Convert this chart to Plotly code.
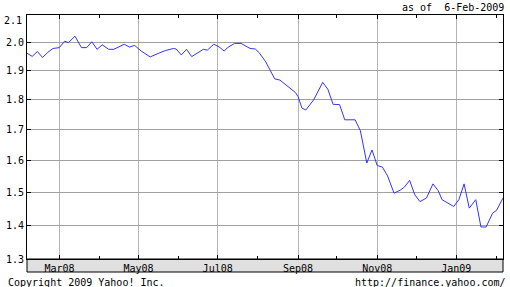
import numpy as np
import plotly.graph_objects as go

# ---- data ----
dates = [
    "2008-02-05", "2008-02-09", "2008-02-13", "2008-02-17", "2008-02-21", "2008-02-25",
    "2008-03-01", "2008-03-05", "2008-03-08", "2008-03-13", "2008-03-18", "2008-03-22",
    "2008-03-26", "2008-03-30", "2008-04-03", "2008-04-08", "2008-04-12", "2008-04-17",
    "2008-04-20", "2008-04-24", "2008-04-28", "2008-05-03", "2008-05-10", "2008-05-17",
    "2008-05-22", "2008-05-28", "2008-05-30", "2008-06-03", "2008-06-07", "2008-06-11",
    "2008-06-16", "2008-06-20", "2008-06-23", "2008-06-28", "2008-07-02", "2008-07-06",
    "2008-07-09", "2008-07-14", "2008-07-19", "2008-07-22", "2008-07-26", "2008-07-30",
    "2008-08-02", "2008-08-07", "2008-08-10", "2008-08-14", "2008-08-18", "2008-08-21",
    "2008-08-27", "2008-08-30", "2008-09-01", "2008-09-04", "2008-09-07", "2008-09-13",
    "2008-09-20", "2008-09-24", "2008-09-28", "2008-10-03", "2008-10-07", "2008-10-15",
    "2008-10-19", "2008-10-21", "2008-10-24", "2008-10-28", "2008-11-01", "2008-11-05",
    "2008-11-09", "2008-11-14", "2008-11-19", "2008-11-22", "2008-11-26", "2008-11-30",
    "2008-12-04", "2008-12-09", "2008-12-14", "2008-12-18", "2008-12-21", "2008-12-30",
    "2009-01-03", "2009-01-07", "2009-01-11", "2009-01-16", "2009-01-20", "2009-01-24",
    "2009-01-29", "2009-02-01", "2009-02-06",
]
values = [
    1.962, 1.951, 1.968, 1.947, 1.965, 1.979,
    1.982, 2.005, 2.000, 2.023, 1.982, 1.982,
    2.003, 1.976, 1.992, 1.976, 1.976, 1.989,
    1.994, 1.984, 1.990, 1.970, 1.949, 1.963,
    1.972, 1.979, 1.977, 1.956, 1.976, 1.950,
    1.964, 1.976, 1.973, 1.994, 1.985, 1.970,
    1.983, 1.997, 1.997, 1.988, 1.979, 1.977,
    1.964, 1.932, 1.905, 1.872, 1.868, 1.857,
    1.835, 1.825, 1.811, 1.772, 1.766, 1.800,
    1.860, 1.836, 1.785, 1.784, 1.733, 1.733,
    1.697, 1.656, 1.592, 1.634, 1.584, 1.579,
    1.551, 1.497, 1.507, 1.516, 1.537, 1.492,
    1.471, 1.482, 1.526, 1.505, 1.477, 1.456,
    1.477, 1.526, 1.451, 1.477, 1.394, 1.394,
    1.436, 1.444, 1.482,
]
y_ticks = [1.3, 1.4, 1.5, 1.6, 1.7, 1.8, 1.9, 2.0]
y_tick_labels = ["1.3", "1.4", "1.5", "1.6", "1.7", "1.8", "1.9", "2.0"]
y_top_label = "2.1"
y_min, y_max = 1.3, 2.1
x_start, x_end = "2008-02-05", "2009-02-06"

# The source chart uses a square-root value scale: map values onto it.
def scale(v):
    return np.sqrt(np.asarray(v, dtype=float))

FONT = "DejaVu Sans Mono"

fig = go.Figure()
fig.add_trace(go.Scatter(
    x=dates, y=scale(values), mode="lines",
    line=dict(color="#3333ff", width=1),
    hoverinfo="skip", showlegend=False,
))

fig.update_layout(
    width=510, height=287,
    margin=dict(l=21, r=6, t=15, b=28),
    paper_bgcolor="white", plot_bgcolor="white",
    font=dict(family=FONT, size=10, color="black"),
    xaxis=dict(
        type="date", range=[x_start, x_end],
        tick0="2008-01-01", dtick="M2", tickformat="%b%y",
        showgrid=True, gridcolor="#b4b4b4", gridwidth=1,
        ticks="inside", ticklen=4, tickcolor="black",
        showline=True, linecolor="black", linewidth=1, mirror="ticks",
        minor=dict(dtick="M1", tick0="2008-01-01", ticks="inside",
                   ticklen=3, tickcolor="black", showgrid=False),
        zeroline=False, fixedrange=True,
        tickfont=dict(family=FONT, size=10, color="black"),
    ),
    yaxis=dict(
        range=[float(scale(y_min)), float(scale(y_max))],
        tickvals=list(scale(y_ticks)), ticktext=y_tick_labels,
        showgrid=True, gridcolor="#a0a0a0", gridwidth=1,
        ticks="inside", ticklen=4, tickcolor="black",
        showline=True, linecolor="black", linewidth=1, mirror="ticks",
        zeroline=False, fixedrange=True,
        tickfont=dict(family=FONT, size=10, color="black"),
    ),
    shapes=[
        dict(type="rect", xref="paper", yref="paper",
             x0=0, x1=1, y0=-13 / 244, y1=0,
             fillcolor="#e0e0e0", line=dict(color="black", width=1),
             layer="below"),
    ],
    annotations=[
        dict(text="as of\u00a0 6-Feb-2009", xref="paper", yref="paper",
             x=(507 - 21) / 483, y=(259 - 7.5) / 244,
             xanchor="right", yanchor="middle", showarrow=False,
             font=dict(family=FONT, size=10, color="black")),
        dict(text="Copyright 2009 Yahoo! Inc.", xref="paper", yref="paper",
             x=-21 / 483, y=-(282.3 - 259) / 244,
             xanchor="left", yanchor="middle", showarrow=False,
             font=dict(family=FONT, size=10, color="black")),
        dict(text="http://finance.yahoo.com/", xref="paper", yref="paper",
             x=(509 - 21) / 483, y=-(282.3 - 259) / 244,
             xanchor="right", yanchor="middle", showarrow=False,
             font=dict(family=FONT, size=10, color="black")),
        dict(text=y_top_label, xref="paper", yref="paper",
             x=-3 / 483, y=(259 - 20.5) / 244,
             xanchor="right", yanchor="middle", showarrow=False,
             font=dict(family=FONT, size=10, color="black")),
    ],
)

fig.write_html("out.html")
